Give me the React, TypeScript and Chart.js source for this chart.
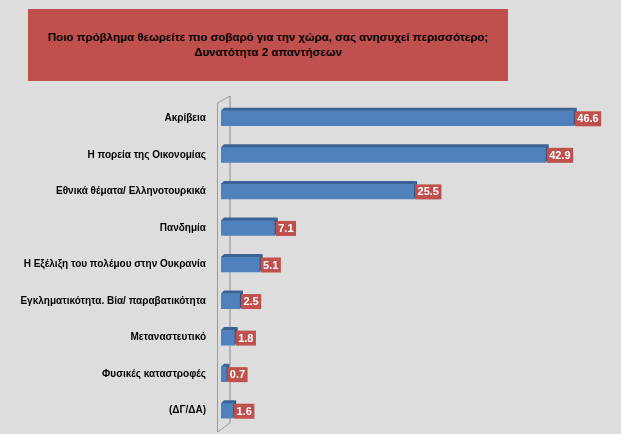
import React, { useEffect, useRef } from "react";
import { Chart, registerables } from "chart.js";

Chart.register(...registerables);

const titleLines = [
  "Ποιο πρόβλημα θεωρείτε πιο σοβαρό για την χώρα, σας ανησυχεί περισσότερο;",
  "Δυνατότητα 2 απαντήσεων",
];

const categories = [
  "Ακρίβεια",
  "Η πορεία της Οικονομίας",
  "Εθνικά θέματα/ Ελληνοτουρκικά",
  "Πανδημία",
  "Η Εξέλιξη του πολέμου στην Ουκρανία",
  "Εγκληματικότητα. Βία/ παραβατικότητα",
  "Μεταναστευτικό",
  "Φυσικές καταστροφές",
  "(ΔΓ/ΔΑ)",
];

const values = [46.6, 42.9, 25.5, 7.1, 5.1, 2.5, 1.8, 0.7, 1.6];

const BG = "#dddddd";
const RED = "#c0504d";
const BLUE = "#4f81bd";
const BLUE_TOP = "#3b6294";
const BLUE_SIDE = "#2f5280";
const FONT = "'Liberation Sans', Arial, sans-serif";

const wallPlugin = {
  id: "wall3d",
  beforeDatasetsDraw(chart: any) {
    const { ctx, chartArea } = chart;
    const l = chartArea.left;
    const t = chartArea.top;
    const b = chartArea.bottom;
    ctx.save();
    ctx.strokeStyle = "#a6a6a6";
    ctx.lineWidth = 1.5;
    ctx.beginPath();
    ctx.moveTo(l + 9, t - 4);
    ctx.lineTo(l + 9, b - 6);
    ctx.stroke();
    ctx.strokeStyle = "#9a9a9a";
    ctx.lineWidth = 1;
    ctx.beginPath();
    ctx.moveTo(l + 9, t - 4);
    ctx.lineTo(l - 3.5, t + 3);
    ctx.lineTo(l - 3.5, b + 3);
    ctx.lineTo(l + 9, b - 6);
    ctx.stroke();
    ctx.restore();
  },
};

const bar3dPlugin = {
  id: "bar3d",
  afterDatasetsDraw(chart: any) {
    const { ctx } = chart;
    const meta = chart.getDatasetMeta(0);
    const ds = chart.data.datasets[0];
    const dx = 3;
    const dy = 3;
    ctx.save();
    meta.data.forEach((bar: any, i: number) => {
      const p = bar.getProps(["x", "y", "base", "height"], true);
      const top = p.y - p.height / 2;
      const bot = p.y + p.height / 2;
      ctx.fillStyle = BLUE_TOP;
      ctx.beginPath();
      ctx.moveTo(p.base, top);
      ctx.lineTo(p.base + dx, top - dy);
      ctx.lineTo(p.x + dx, top - dy);
      ctx.lineTo(p.x, top);
      ctx.closePath();
      ctx.fill();
      ctx.fillStyle = BLUE_SIDE;
      ctx.beginPath();
      ctx.moveTo(p.x, top);
      ctx.lineTo(p.x + dx, top - dy);
      ctx.lineTo(p.x + dx, bot - dy);
      ctx.lineTo(p.x, bot);
      ctx.closePath();
      ctx.fill();
      const txt = ds.data[i].toFixed(1);
      ctx.font = `bold 11px ${FONT}`;
      const w = ctx.measureText(txt).width + 5;
      const h = 15;
      const bx = p.x + 1;
      const by = p.y - h / 2 + 0.5;
      ctx.fillStyle = RED;
      ctx.fillRect(bx, by, w, h);
      ctx.fillStyle = "#ffffff";
      ctx.textAlign = "center";
      ctx.textBaseline = "middle";
      ctx.fillText(txt, bx + w / 2, by + h / 2 + 0.5);
    });
    ctx.restore();
  },
};

export default function App() {
  const ref = useRef<HTMLCanvasElement | null>(null);

  useEffect(() => {
    if (!ref.current) return;
    const chart = new Chart(ref.current, {
      type: "bar",
      data: {
        labels: categories,
        datasets: [
          {
            data: values,
            backgroundColor: BLUE,
            borderWidth: 0,
            barThickness: 15,
          },
        ],
      },
      options: {
        indexAxis: "y",
        responsive: false,
        animation: false,
        layout: { padding: { top: 100, bottom: 5, right: 21.5, left: 0 } },
        plugins: {
          legend: { display: false },
          tooltip: { enabled: false },
          title: { display: false },
        },
        scales: {
          x: {
            display: false,
            min: 0,
            max: 50,
          },
          y: {
            grid: { display: false, drawTicks: false },
            border: { display: false },
            afterFit: (scale: any) => {
              scale.width = 221;
            },
            ticks: {
              padding: 15,
              color: "#000000",
              font: { family: FONT, weight: "bold", size: 10 },
            },
          },
        },
      },
      plugins: [wallPlugin, bar3dPlugin],
    });
    return () => chart.destroy();
  }, []);

  return (
    <div
      style={{
        position: "absolute",
        left: 0,
        top: 0,
        width: 621,
        height: 434,
        background: BG,
        overflow: "hidden",
      }}
    >
      <canvas
        ref={ref}
        width={621}
        height={450}
        style={{ position: "absolute", left: 0, top: 0 }}
      />
      <div
        style={{
          position: "absolute",
          left: 28,
          top: 9,
          width: 480,
          height: 72,
          background: RED,
          display: "flex",
          flexDirection: "column",
          alignItems: "center",
          justifyContent: "center",
          fontFamily: FONT,
          fontWeight: "bold",
          fontSize: 11.5,
          lineHeight: "15px",
          color: "#000000",
          paddingBottom: 1,
          boxSizing: "border-box",
        }}
      >
        {titleLines.map((t, i) => (
          <div key={i}>{t}</div>
        ))}
      </div>
    </div>
  );
}
